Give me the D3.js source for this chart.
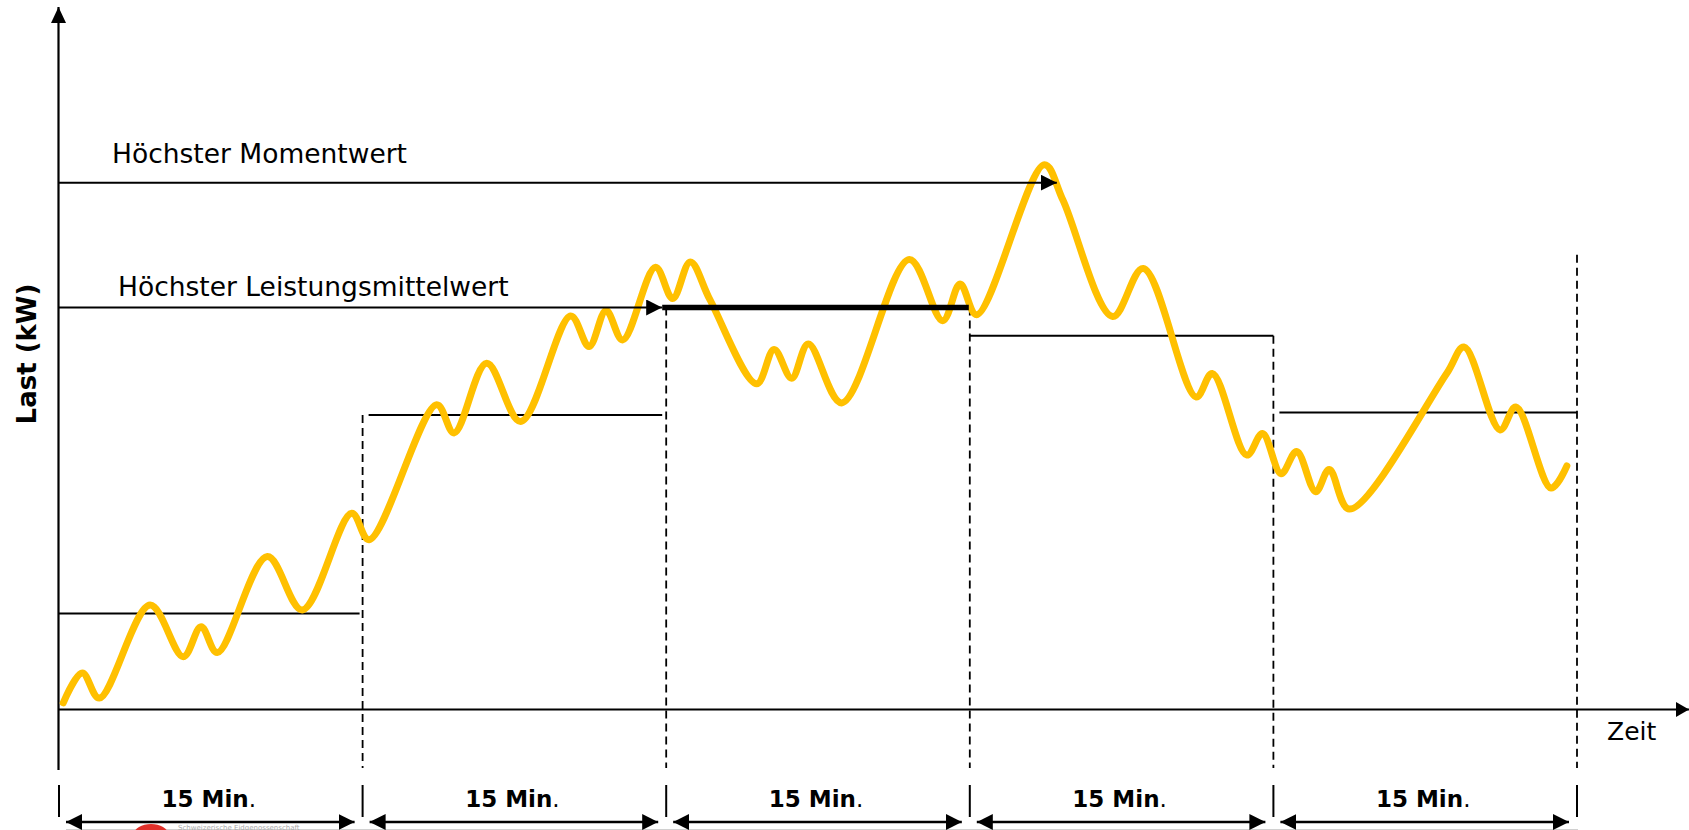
<!DOCTYPE html>
<html>
<head>
<meta charset="utf-8">
<script src="https://cdn.jsdelivr.net/npm/d3@7"></script>
<style>
  body { margin: 0; background: #fff; }
  svg { display: block; font-family: "DejaVu Sans", Verdana, sans-serif; }
</style>
</head>
<body>
<div id="chart"></div>
<script>
// Lastgang: Zeit in Minuten, Last in kW
const zeitMin = [0.21, 1.15, 1.99, 4.50, 6.14, 7.02, 7.82, 10.29, 12.02, 14.46, 15.32,
  18.66, 19.52, 21.13, 22.81, 25.28, 26.19, 27.03, 27.85, 29.47, 30.32, 31.19, 32.16,
  34.47, 35.33, 36.20, 37.02, 38.67, 42.01, 43.66, 44.52, 45.34, 48.68, 49.60, 52.06,
  53.57, 56.18, 56.98, 58.68, 59.46, 60.38, 61.15, 62.09, 62.76, 63.75, 68.56, 69.42,
  71.20, 71.98, 73.72, 74.50];
const lastKW = [1.1, 6.1, 1.9, 17.4, 8.8, 13.8, 9.5, 25.5, 16.6, 32.7, 28.3,
  50.8, 46.1, 57.7, 48.0, 65.6, 60.5, 66.5, 61.6, 73.7, 68.5, 74.6, 68.3,
  54.3, 60.0, 55.2, 60.9, 51.1, 75.0, 64.8, 70.9, 65.8, 90.8, 84.9, 65.5,
  73.5, 52.1, 56.0, 42.4, 46.0, 39.3, 43.0, 36.3, 40.0, 33.4, 56.0, 60.4,
  46.6, 50.4, 36.9, 40.6];

// 15-Minuten-Intervalle und ihre Leistungsmittelwerte (kW)
const grenzen = [0, 15, 30, 45, 60, 75];
const mittelwerte = [16.0, 49.1, 67.0, 62.3, 49.5];
const intervallText = ['15 Min', '15 Min', '15 Min', '15 Min', '15 Min'];

// Höchster Momentwert (kW) und wo der Pfeil endet (min)
const momentwert = 87.8, momentZeit = 49.3;
const letzteLinieOben = 75.8;

const width = 1689, height = 830;

d3.select('#chart').selectAll('*').remove();

const svg = d3.select('#chart')
  .append('svg')
  .attr('width', width)
  .attr('height', height);

const x = d3.scaleLinear().domain([0, 75]).range([59, 1577]);
const y = d3.scaleLinear().domain([0, 100]).range([709.5, 109.5]);

const defs = svg.append('defs');
function marker(id, len, h) {
  defs.append('marker')
    .attr('id', id)
    .attr('viewBox', `0 0 ${len} ${h}`)
    .attr('refX', len).attr('refY', h / 2)
    .attr('markerWidth', len).attr('markerHeight', h)
    .attr('markerUnits', 'userSpaceOnUse')
    .attr('orient', 'auto-start-reverse')
    .append('path')
    .attr('d', `M0,0L${len},${h / 2}L0,${h}Z`)
    .attr('fill', '#000');
}
marker('pfeil', 16, 16);
marker('achseY', 16, 15);
marker('achseX', 13, 15);

// angeschnittenes Logo am unteren Rand
svg.append('line')
  .attr('x1', 66).attr('x2', 1578).attr('y1', 829.5).attr('y2', 829.5)
  .attr('stroke', '#d0d0d0').attr('stroke-width', 1);
svg.append('ellipse')
  .attr('cx', 151).attr('cy', 834).attr('rx', 17).attr('ry', 10)
  .attr('fill', '#e0302a');
svg.append('text')
  .attr('x', 178).attr('y', 829.5)
  .attr('font-size', 7).attr('fill', '#aaa')
  .text('Schweizerische Eidgenossenschaft');

// Achsen
svg.append('line')
  .attr('x1', 58.5).attr('x2', 58.5).attr('y1', 770).attr('y2', 7)
  .attr('stroke', '#000').attr('stroke-width', 2.2)
  .attr('marker-end', 'url(#achseY)');
svg.append('line')
  .attr('x1', 58).attr('x2', 1689).attr('y1', y(0)).attr('y2', y(0))
  .attr('stroke', '#000').attr('stroke-width', 2.2)
  .attr('marker-end', 'url(#achseX)');

// gestrichelte Intervallgrenzen
const innen = grenzen.slice(1);
svg.selectAll('.grenze')
  .data(innen)
  .enter().append('line')
  .attr('class', 'grenze')
  .attr('x1', d => x(d)).attr('x2', d => x(d))
  .attr('y1', (d, i) => {
    if (i === innen.length - 1) return y(letzteLinieOben);
    return y(Math.max(mittelwerte[i], mittelwerte[i + 1]));
  })
  .attr('y2', 768)
  .attr('stroke', '#000').attr('stroke-width', 1.8)
  .attr('stroke-dasharray', '8,5');

// Mittelwerte je Intervall (dünn)
const maxMittel = d3.max(mittelwerte);
const linksPad = [0, 6, 0, 0, 6];
const rechtsPad = [3, 4, 0, 0, 0];
svg.selectAll('.mittel')
  .data(mittelwerte.filter(v => v !== maxMittel).map(v => mittelwerte.indexOf(v)))
  .enter().append('line')
  .attr('class', 'mittel')
  .attr('x1', i => x(grenzen[i]) + linksPad[i])
  .attr('x2', i => x(grenzen[i + 1]) - rechtsPad[i])
  .attr('y1', i => y(mittelwerte[i])).attr('y2', i => y(mittelwerte[i]))
  .attr('stroke', '#000').attr('stroke-width', 2);

// Lastgang
const punkte = zeitMin.map((t, i) => [t, lastKW[i]]);
const linie = d3.line()
  .x(d => x(d[0]))
  .y(d => y(d[1]))
  .curve(d3.curveCatmullRom.alpha(0.5));
svg.append('path')
  .datum(punkte)
  .attr('d', linie)
  .attr('fill', 'none')
  .attr('stroke', '#ffc000')
  .attr('stroke-width', 7)
  .attr('stroke-linecap', 'round')
  .attr('stroke-linejoin', 'round');

// höchster Mittelwert (dick)
const iMax = mittelwerte.indexOf(maxMittel);
svg.append('line')
  .attr('x1', x(grenzen[iMax]) - 4).attr('x2', x(grenzen[iMax + 1]) - 1)
  .attr('y1', y(maxMittel)).attr('y2', y(maxMittel))
  .attr('stroke', '#000').attr('stroke-width', 5.5);

// Annotationspfeile
svg.append('line')
  .attr('x1', 59).attr('x2', x(momentZeit))
  .attr('y1', y(momentwert)).attr('y2', y(momentwert))
  .attr('stroke', '#000').attr('stroke-width', 2)
  .attr('marker-end', 'url(#pfeil)');
svg.append('text')
  .attr('x', 112).attr('y', y(momentwert) - 20)
  .attr('font-size', 26.5)
  .text('Höchster Momentwert');

svg.append('line')
  .attr('x1', 59).attr('x2', x(grenzen[iMax]) - 4)
  .attr('y1', y(maxMittel)).attr('y2', y(maxMittel))
  .attr('stroke', '#000').attr('stroke-width', 2)
  .attr('marker-end', 'url(#pfeil)');
svg.append('text')
  .attr('x', 118).attr('y', y(maxMittel) - 12)
  .attr('font-size', 26.5)
  .text('Höchster Leistungsmittelwert');

// Achsentitel
svg.append('text')
  .attr('x', 1607).attr('y', 740)
  .attr('font-size', 25)
  .text('Zeit');
svg.append('text')
  .attr('transform', 'translate(36,354) rotate(-90)')
  .attr('text-anchor', 'middle')
  .attr('font-size', 26).attr('font-weight', 'bold')
  .text('Last (kW)');

// 15-Minuten-Bemaßung unten
svg.selectAll('.tick')
  .data(grenzen)
  .enter().append('line')
  .attr('class', 'tick')
  .attr('x1', d => x(d)).attr('x2', d => x(d))
  .attr('y1', 785).attr('y2', 817)
  .attr('stroke', '#000').attr('stroke-width', 2);

const bereiche = d3.pairs(grenzen);
svg.selectAll('.mass')
  .data(bereiche)
  .enter().append('line')
  .attr('class', 'mass')
  .attr('x1', d => x(d[0]) + 7).attr('x2', d => x(d[1]) - 8)
  .attr('y1', 822).attr('y2', 822)
  .attr('stroke', '#000').attr('stroke-width', 2.5)
  .attr('marker-start', 'url(#pfeil)')
  .attr('marker-end', 'url(#pfeil)');

const label = svg.selectAll('.lbl')
  .data(bereiche)
  .enter().append('text')
  .attr('class', 'lbl')
  .attr('x', d => (x(d[0]) + x(d[1])) / 2 - 2)
  .attr('y', 807)
  .attr('text-anchor', 'middle')
  .attr('font-size', 23).attr('font-weight', 'bold');
label.append('tspan').text((d, i) => intervallText[i]);
label.append('tspan').attr('font-weight', 'normal').text('.');
</script>
</body>
</html>
